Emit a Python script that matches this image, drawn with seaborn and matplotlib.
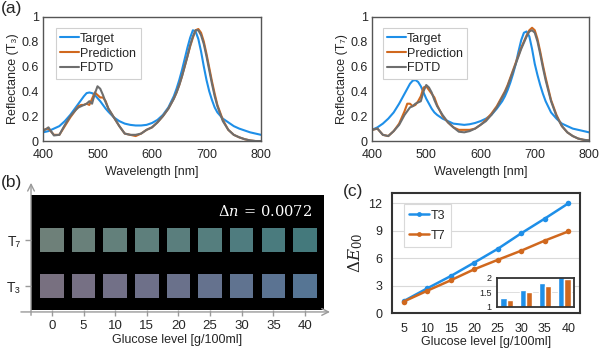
import numpy as np
import pandas as pd
import matplotlib.pyplot as plt
from matplotlib.lines import Line2D
import seaborn as sns

# ---- spectra (panel a) ----
wavelength = [400, 410, 420, 430, 440, 450, 460, 465, 470, 475, 480, 485, 490, 495, 500, 505, 510,
              515, 520, 530, 540, 550, 560, 570, 580, 590, 600, 610, 620, 630, 640, 645, 650, 655,
              660, 665, 670, 675, 680, 685, 690, 695, 700, 705, 710, 715, 720, 730, 740, 750, 760,
              770, 780, 790, 800]

t3_target = [0.07, 0.08, 0.10, 0.12, 0.16, 0.21, 0.27, 0.30, 0.33, 0.36, 0.385, 0.39, 0.385, 0.37,
             0.345, 0.32, 0.29, 0.26, 0.235, 0.19, 0.16, 0.14, 0.13, 0.125, 0.125, 0.13, 0.145, 0.17,
             0.21, 0.27, 0.36, 0.42, 0.49, 0.57, 0.66, 0.75, 0.83, 0.89, 0.88, 0.82, 0.72, 0.60, 0.49,
             0.40, 0.33, 0.27, 0.23, 0.18, 0.15, 0.12, 0.10, 0.085, 0.07, 0.06, 0.05]
t3_pred = [0.09, 0.10, 0.05, 0.05, 0.12, 0.19, 0.25, 0.28, 0.29, 0.29, 0.30, 0.29, 0.34, 0.39, 0.37,
           0.35, 0.35, 0.32, 0.26, 0.19, 0.12, 0.06, 0.05, 0.04, 0.06, 0.09, 0.11, 0.15, 0.20, 0.26,
           0.34, 0.39, 0.45, 0.52, 0.60, 0.68, 0.76, 0.83, 0.89, 0.90, 0.87, 0.80, 0.70, 0.59, 0.48,
           0.38, 0.29, 0.17, 0.09, 0.05, 0.03, 0.015, 0.005, 0.0, 0.0]
t3_fdtd = [0.08, 0.11, 0.045, 0.05, 0.13, 0.20, 0.25, 0.27, 0.28, 0.29, 0.30, 0.32, 0.30, 0.38, 0.44,
           0.42, 0.37, 0.31, 0.26, 0.19, 0.12, 0.06, 0.05, 0.05, 0.06, 0.09, 0.11, 0.15, 0.20, 0.26,
           0.34, 0.39, 0.45, 0.52, 0.60, 0.68, 0.77, 0.84, 0.89, 0.89, 0.85, 0.78, 0.68, 0.57, 0.46,
           0.36, 0.28, 0.16, 0.09, 0.05, 0.03, 0.015, 0.005, 0.0, 0.0]

t7_target = [0.09, 0.11, 0.14, 0.18, 0.23, 0.30, 0.38, 0.42, 0.46, 0.485, 0.49, 0.475, 0.44, 0.39,
             0.34, 0.30, 0.26, 0.23, 0.21, 0.18, 0.16, 0.14, 0.135, 0.13, 0.135, 0.145, 0.16, 0.18,
             0.21, 0.26, 0.32, 0.36, 0.41, 0.47, 0.54, 0.62, 0.72, 0.81, 0.87, 0.88, 0.84, 0.74, 0.62,
             0.53, 0.45, 0.38, 0.32, 0.23, 0.18, 0.14, 0.12, 0.10, 0.09, 0.08, 0.07]
t7_pred = [0.09, 0.10, 0.05, 0.04, 0.08, 0.14, 0.24, 0.30, 0.30, 0.28, 0.29, 0.32, 0.36, 0.43, 0.44,
           0.41, 0.38, 0.35, 0.29, 0.20, 0.15, 0.11, 0.09, 0.09, 0.09, 0.10, 0.13, 0.17, 0.22, 0.28,
           0.36, 0.40, 0.45, 0.51, 0.57, 0.63, 0.69, 0.75, 0.80, 0.85, 0.89, 0.91, 0.89, 0.82, 0.72,
           0.61, 0.51, 0.33, 0.21, 0.12, 0.07, 0.04, 0.02, 0.01, 0.005]
t7_fdtd = [0.09, 0.10, 0.05, 0.04, 0.08, 0.13, 0.21, 0.24, 0.27, 0.28, 0.30, 0.31, 0.32, 0.40, 0.45,
           0.43, 0.39, 0.33, 0.28, 0.21, 0.15, 0.11, 0.075, 0.07, 0.08, 0.10, 0.13, 0.16, 0.21, 0.27,
           0.35, 0.39, 0.44, 0.50, 0.56, 0.62, 0.68, 0.74, 0.79, 0.84, 0.88, 0.89, 0.87, 0.80, 0.70,
           0.59, 0.49, 0.32, 0.20, 0.12, 0.07, 0.04, 0.02, 0.01, 0.005]

# ---- colour chips (panel b) ----
glucose_levels = ["0", "5", "10", "15", "20", "25", "30", "35", "40"]
t7_chip_colors = ["#6E8079", "#69807A", "#63807B", "#5E7F7C", "#5A7E7D", "#557E7E", "#4F7C7F",
                  "#4A7B7E", "#44797C"]
t3_chip_colors = ["#787080", "#767084", "#727087", "#6E7089", "#6A718B", "#65728E", "#607390",
                  "#5B7392", "#567594"]

# ---- colour difference (panel c) ----
glucose_c = [5, 10, 15, 20, 25, 30, 35, 40]
de_t3 = [1.3, 2.69, 4.03, 5.5, 7.0, 8.7, 10.3, 11.96]
de_t7 = [1.25, 2.43, 3.57, 4.77, 5.8, 6.8, 7.9, 8.9]
inset_groups = ["1", "2", "3", "4"]
inset_t3 = [1.32, 1.57, 1.83, 2.02]
inset_t7 = [1.24, 1.50, 1.72, 1.97]

sns.set_theme(style="white")
plt.rcParams["font.family"] = ["Liberation Sans", "DejaVu Sans"]
plt.rcParams["mathtext.fontset"] = "dejavuserif"
plt.rcParams["axes.unicode_minus"] = False

BLUE = "#1E8FE8"
ORANGE = "#D0681E"
GRAY = "#6E6E6E"
TXT = "#262626"
spec_pal = {"Target": BLUE, "Prediction": ORANGE, "FDTD": GRAY}

fig = plt.figure(figsize=(6, 3.5), dpi=100)


def spectra_frame(target, pred, fdtd):
    df = pd.DataFrame({"wl": wavelength, "Target": target, "Prediction": pred, "FDTD": fdtd})
    return df.melt(id_vars="wl", var_name="series", value_name="R")


def draw_spectrum(ax, df, ylabel, leg_x):
    sns.lineplot(data=df, x="wl", y="R", hue="series", palette=spec_pal,
                 hue_order=["Target", "Prediction", "FDTD"], estimator=None,
                 linewidth=1.5, ax=ax)
    ax.set_xlim(400, 800)
    ax.set_ylim(0, 1)
    ax.set_xticks([400, 500, 600, 700, 800])
    ax.set_yticks([0, 0.2, 0.4, 0.6, 0.8, 1])
    ax.set_yticklabels(["0", "0.2", "0.4", "0.6", "0.8", "1"])
    ax.tick_params(length=0, labelsize=9, colors=TXT)
    ax.tick_params(axis="x", pad=6)
    ax.tick_params(axis="y", pad=3)
    ax.set_xlabel("Wavelength [nm]", fontsize=9, color=TXT, labelpad=3)
    ax.set_ylabel(ylabel, fontsize=9, color=TXT, labelpad=2)
    for s in ax.spines.values():
        s.set_color("#555555")
        s.set_linewidth(1)
    handles = [Line2D([], [], color=spec_pal[k], lw=1.5) for k in spec_pal]
    leg = ax.legend(handles, list(spec_pal), loc="upper left", bbox_to_anchor=(leg_x, 0.955),
                    fontsize=9, handlelength=1.5, handletextpad=0.1, labelspacing=0.22,
                    borderpad=0.35, fancybox=False, framealpha=1)
    leg.get_frame().set_edgecolor("#d0d0d0")
    leg.get_frame().set_linewidth(0.8)


ax1 = fig.add_axes([0.0717, 0.597, 0.3633, 0.3557])
draw_spectrum(ax1, spectra_frame(t3_target, t3_pred, t3_fdtd), "Reflectance (T₃)", 0.03)
ax2 = fig.add_axes([0.62, 0.597, 0.3617, 0.3557])
draw_spectrum(ax2, spectra_frame(t7_target, t7_pred, t7_fdtd), "Reflectance (T₇)", 0.02)

# ---- panel b ----
axb = fig.add_axes([0.0517, 0.1143, 0.4883, 0.3286])
axb.set_facecolor("black")
chips = pd.DataFrame({
    "level": glucose_levels * 2,
    "sensor": ["T₃"] * len(glucose_levels) + ["T₇"] * len(glucose_levels),
    "color": t3_chip_colors + t7_chip_colors,
})
sns.scatterplot(data=chips, x="level", y="sensor", hue="color",
                palette={c: c for c in chips["color"]}, marker="s", s=285,
                linewidth=0, legend=False, ax=axb)
axb.set_xlim(-0.66, 8.6)
axb.set_ylim(-0.52, 1.98)
for s in axb.spines.values():
    s.set_visible(False)
axb.tick_params(bottom=True, left=True, length=4, width=1, color="#9a9a9a",
                colors=TXT, labelsize=10)
axb.tick_params(axis="x", pad=3, labelsize=9.5, labelcolor=TXT, color="#9a9a9a")
axb.tick_params(axis="y", pad=3, labelcolor=TXT, color="#9a9a9a")
axb.set_xlabel("Glucose level [g/100ml]", fontsize=9, color=TXT, labelpad=2)
axb.set_ylabel("")
axb.annotate("", xy=(0, 1.13), xytext=(0, -0.07), xycoords="axes fraction",
             arrowprops=dict(arrowstyle="->", color="#9a9a9a", lw=1))
axb.annotate("", xy=(1.03, -0.017), xytext=(-0.044, -0.017), xycoords="axes fraction",
             arrowprops=dict(arrowstyle="->", color="#9a9a9a", lw=1))
axb.text(0.96, 0.86, r"$\Delta n\,=\,0.0072$", transform=axb.transAxes, color="white",
         fontsize=10.5, ha="right", va="center")

# ---- panel c ----
axc = fig.add_axes([0.6533, 0.1057, 0.3133, 0.3429])
de = pd.DataFrame({
    "glucose": glucose_c * 2,
    "dE": de_t3 + de_t7,
    "series": ["T3"] * len(glucose_c) + ["T7"] * len(glucose_c),
})
c_pal = {"T3": BLUE, "T7": ORANGE}
sns.lineplot(data=de, x="glucose", y="dE", hue="series", palette=c_pal, marker="o",
             markersize=4, markeredgewidth=0, linewidth=1.8, estimator=None, ax=axc)
axc.set_xlim(2.5, 42.5)
axc.set_ylim(0, 13.1)
axc.set_xticks(glucose_c)
axc.set_yticks([0, 3, 6, 9, 12])
axc.grid(axis="y", color="#d9d9d9", linewidth=0.8)
axc.set_axisbelow(True)
axc.tick_params(length=0, labelsize=9, colors=TXT)
axc.tick_params(axis="x", pad=7)
axc.tick_params(axis="y", pad=7)
axc.set_xlabel("Glucose level [g/100ml]", fontsize=9, color=TXT, labelpad=1)
axc.set_ylabel(r"$\Delta E_{00}$", fontsize=12, color=TXT, labelpad=2)
for s in axc.spines.values():
    s.set_color("#333333")
    s.set_linewidth(1.5)
c_handles = [Line2D([], [], color=c_pal[k], lw=1.8, marker="o", markersize=3.5,
                    markeredgewidth=0) for k in c_pal]
legc = axc.legend(c_handles, list(c_pal), loc="upper left", bbox_to_anchor=(0.03, 0.96),
                  fontsize=9, handlelength=1.6, handletextpad=0.1, labelspacing=0.65,
                  borderpad=0.45, fancybox=False, framealpha=1)
legc.get_frame().set_edgecolor("#d9d9d9")
legc.get_frame().set_linewidth(0.8)

# inset bars
axi = fig.add_axes([0.8283, 0.1229, 0.1283, 0.0829])
bars = pd.DataFrame({
    "group": inset_groups * 2,
    "value": inset_t3 + inset_t7,
    "series": ["T3"] * len(inset_groups) + ["T7"] * len(inset_groups),
})
sns.barplot(data=bars, x="group", y="value", hue="series", palette=c_pal, saturation=1,
            width=0.65, errorbar=None, legend=False, ax=axi)
axi.set_ylim(1, 2)
axi.set_yticks([1, 1.5, 2])
axi.set_yticklabels(["1", "1.5", "2"])
axi.set_xticks([])
axi.set_xlabel("")
axi.set_ylabel("")
axi.grid(axis="y", color="#d9d9d9", linewidth=0.6)
axi.set_axisbelow(True)
axi.tick_params(length=0, labelsize=6.5, colors=TXT, pad=4)
for s in axi.spines.values():
    s.set_color("#333333")
    s.set_linewidth(1.3)

# panel letters
fig.text(0.002, 0.975, "(a)", fontsize=12.5, color=TXT, va="center")
fig.text(0.002, 0.478, "(b)", fontsize=12.5, color=TXT, va="center")
fig.text(0.572, 0.452, "(c)", fontsize=12.5, color=TXT, va="center")

fig.savefig("out.png", dpi=100)
